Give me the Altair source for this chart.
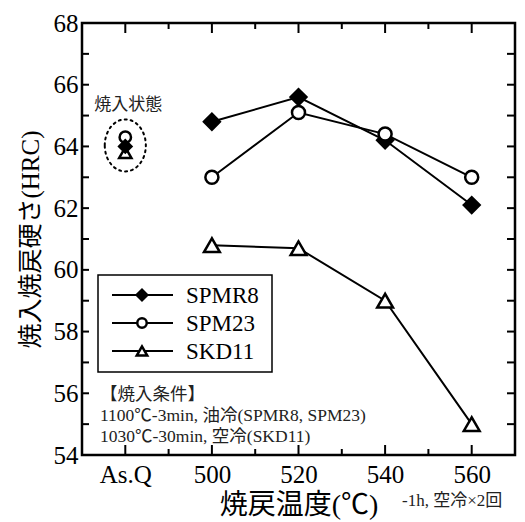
import altair as alt
import pandas as pd

# ---------------- data ----------------
SERIES = ["SPMR8", "SPM23", "SKD11"]
TEMPS = [500, 520, 540, 560]
SPMR8 = [64.8, 65.6, 64.2, 62.1]
SPM23 = [63.0, 65.1, 64.4, 63.0]
SKD11 = [60.8, 60.7, 59.0, 55.0]
ASQ_POS = 480
ASQ_VALUES = [64.0, 64.3, 63.8]          # SPMR8, SPM23, SKD11 as quenched
X_MAJOR = [480, 500, 520, 540, 560]
X_LABELS = ["As.Q", "500", "520", "540", "560"]
X_MINOR = [490, 510, 530, 550]
Y_MAJOR = [54, 56, 58, 60, 62, 64, 66, 68]
Y_MINOR = [55, 57, 59, 61, 63, 65, 67]
X_DOMAIN = [470, 570]
Y_DOMAIN = [54, 68]
ASQ_LABEL = "焼入状態"
NOTE_LINES = ["【焼入条件】", "1100℃-3min, 油冷(SPMR8, SPM23)", "1030℃-30min, 空冷(SKD11)"]
X_TITLE = "焼戻温度(℃)"
X_NOTE = "-1h, 空冷×2回"
Y_TITLE = "焼入焼戻硬さ(HRC)"

FONT = "Liberation Serif, Noto Sans CJK JP"
W, H = 433, 432

values = {"SPMR8": SPMR8, "SPM23": SPM23, "SKD11": SKD11}
main = pd.DataFrame([
    {"s": s, "t": t, "h": v}
    for s in SERIES for t, v in zip(TEMPS, values[s])
])
asq = pd.DataFrame({"s": SERIES, "t": [ASQ_POS] * 3, "h": ASQ_VALUES})

label_expr = "{" + ",".join(f"'{v}':'{l}'" for v, l in zip(X_MAJOR, X_LABELS)) + "}[datum.value]"

xs = alt.Scale(domain=X_DOMAIN, nice=False, zero=False)
ys = alt.Scale(domain=Y_DOMAIN, nice=False, zero=False)

x_axis = alt.Axis(
    values=X_MAJOR, labelExpr=label_expr, ticks=False, domain=False, grid=False,
    labelFont=FONT, labelFontSize=25, labelColor="black", labelPadding=7,
    title=X_TITLE, titleFont=FONT, titleFontSize=28, titleFontWeight="normal",
    titleColor="black", titlePadding=4, labelFlush=False)
y_axis = alt.Axis(
    values=Y_MAJOR, ticks=False, domain=False, grid=False,
    labelFont=FONT, labelFontSize=25, labelColor="black", labelPadding=4,
    title=Y_TITLE, titleFont=FONT, titleFontSize=25, titleFontWeight="normal",
    titleColor="black", titlePadding=10, labelFlush=False)
X = alt.X("t:Q", scale=xs, axis=x_axis)
Y = alt.Y("h:Q", scale=ys, axis=y_axis)

layers = []


def df_t(v):
    return pd.DataFrame({"t": v})


def df_h(v):
    return pd.DataFrame({"h": v})


# inward ticks
layers.append(alt.Chart(df_t(X_MAJOR)).mark_rule(color="black", strokeWidth=2).encode(
    x=X, y=alt.value(H), y2=alt.value(H - 10)))
layers.append(alt.Chart(df_t(X_MINOR)).mark_rule(color="black", strokeWidth=2).encode(
    x=X, y=alt.value(H), y2=alt.value(H - 6)))
layers.append(alt.Chart(df_t(X_MAJOR)).mark_rule(color="black", strokeWidth=2).encode(
    x=X, y=alt.value(0), y2=alt.value(10)))
layers.append(alt.Chart(df_t(X_MINOR)).mark_rule(color="black", strokeWidth=2).encode(
    x=X, y=alt.value(0), y2=alt.value(6)))
layers.append(alt.Chart(df_h(Y_MAJOR + Y_MINOR)).mark_rule(color="black", strokeWidth=2).encode(
    y=Y, x=alt.value(0), x2=alt.value(7)))
layers.append(alt.Chart(df_h(Y_MAJOR + Y_MINOR)).mark_rule(color="black", strokeWidth=2).encode(
    y=Y, x=alt.value(W), x2=alt.value(W - 8)))

# lines
layers.append(alt.Chart(main).mark_line(color="black", strokeWidth=2).encode(
    x=X, y=Y, detail="s:N"))

SHAPES = {"SPMR8": ("diamond", "black", 250, 110),
          "SPM23": ("circle", "white", 170, 90),
          "SKD11": ("triangle-up", "white", 250, 110)}

# as-quenched markers
for s in ["SKD11", "SPMR8", "SPM23"]:
    shp, fill, size, small = SHAPES[s]
    layers.append(alt.Chart(asq[asq.s == s]).mark_point(
        shape=shp, filled=True, fill=fill, stroke="black", strokeWidth=2.5,
        size=small + 40, opacity=1, fillOpacity=1 if s != "SPM23" else 0).encode(
        x=X, y=Y))

# main markers
for s in SERIES:
    shp, fill, size, small = SHAPES[s]
    layers.append(alt.Chart(main[main.s == s]).mark_point(
        shape=shp, filled=True, fill=fill, stroke="black", strokeWidth=2.5,
        size=size, opacity=1, fillOpacity=1).encode(x=X, y=Y))

# dotted ellipse around as-quenched points
ell = pd.DataFrame({"t": [ASQ_POS], "h": [sum(ASQ_VALUES) / 3]})
layers.append(alt.Chart(ell).mark_point(
    shape="M -0.79 0 A 0.79 1 0 1 1 0.79 0 A 0.79 1 0 1 1 -0.79 0 Z",
    size=2704, filled=False, stroke="black", strokeWidth=2, strokeDash=[2, 4],
    strokeCap="round", opacity=1).encode(x=X, y=Y))

lab = pd.DataFrame({"t": [ASQ_POS], "h": [65.35], "txt": [ASQ_LABEL]})
layers.append(alt.Chart(lab).mark_text(
    font=FONT, fontSize=17, color="#222", align="center", baseline="middle", dx=3).encode(
    x=X, y=Y, text="txt:N"))

# legend
layers.append(alt.Chart(pd.DataFrame({"a": [0]})).mark_rect(
    fill="white", stroke="black", strokeWidth=1.5).encode(
    x=alt.value(16), x2=alt.value(190), y=alt.value(252), y2=alt.value(349)))
ROW_Y = [272, 300, 328]
for s, ry in zip(SERIES, ROW_Y):
    shp, fill, size, small = SHAPES[s]
    d = pd.DataFrame({"name": [s]})
    layers.append(alt.Chart(d).mark_rule(color="black", strokeWidth=2).encode(
        x=alt.value(30), x2=alt.value(91), y=alt.value(ry)))
    layers.append(alt.Chart(d).mark_point(
        shape=shp, filled=True, fill=fill, stroke="black", strokeWidth=2.5,
        size=small, opacity=1, fillOpacity=1).encode(x=alt.value(60), y=alt.value(ry)))
    layers.append(alt.Chart(d).mark_text(
        font=FONT, fontSize=23, color="black", align="left", baseline="middle").encode(
        x=alt.value(104), y=alt.value(ry + 1), text="name:N"))

# conditions note
layers.append(alt.Chart(pd.DataFrame({"a": [0]})).mark_text(
    text=NOTE_LINES, font=FONT, fontSize=17.5, lineHeight=21, color="#222",
    align="left", baseline="middle").encode(x=alt.value(18), y=alt.value(372)))

# x title side note
layers.append(alt.Chart(pd.DataFrame({"a": [0]})).mark_text(
    text=X_NOTE, font=FONT, fontSize=17, color="#222",
    align="left", baseline="middle").encode(x=alt.value(320), y=alt.value(478)))

chart = alt.layer(*layers).properties(
    width=W, height=H, background="white",
    autosize=alt.AutoSizeParams(type="none"),
    padding={"left": 82, "top": 23, "right": 10, "bottom": 67},
).configure_view(stroke="black", strokeWidth=2.5)

chart.save("out.html", embed_options={"renderer": "svg", "actions": False})
